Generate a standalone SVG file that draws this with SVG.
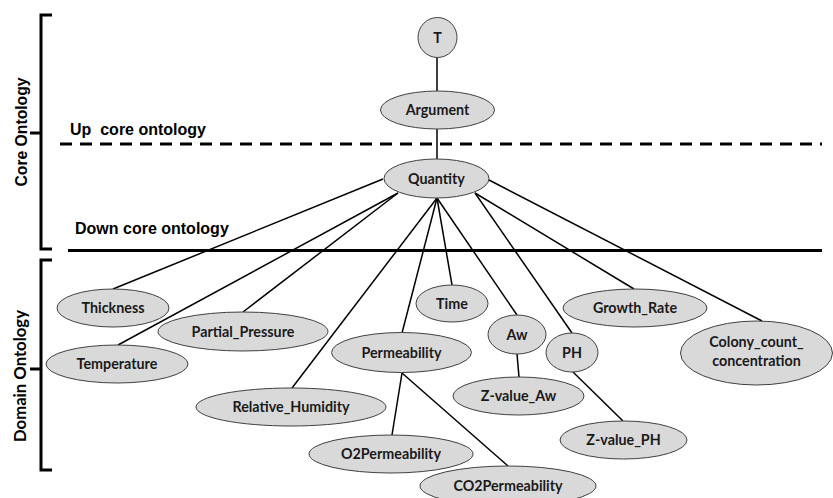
<svg xmlns="http://www.w3.org/2000/svg" width="833" height="498" viewBox="0 0 833 498">
<style>
.n ellipse{fill:#d9d9d9;stroke:#404040;stroke-width:1}
.n text{font-family:Lato,"Open Sans",sans-serif;font-weight:bold;font-size:14.3px;fill:#1a1a1a;text-anchor:middle}
.c line{stroke:#000;stroke-width:1.5}
.sep{stroke:#000;stroke-width:3;fill:none}
.br{stroke:#000;stroke-width:3;fill:none}
.lab{font-family:"Liberation Sans",Arial,sans-serif;font-weight:bold;font-size:16px;fill:#000;white-space:pre}
</style>
<rect width="833" height="498" fill="#fff"/>
<g id="brackets">
<path class="br" d="M52,15 H41 V249 H52 M41,133 H30"/>
<path class="br" d="M52,260 H41 V470 H52 M41,369 H30"/>
<text transform="translate(26.5,132) rotate(-90)" text-anchor="middle" font-family="Liberation Sans,Arial,sans-serif" font-weight="bold" font-size="16" textLength="109" lengthAdjust="spacingAndGlyphs" fill="#000">Core Ontology</text>
<text transform="translate(26,376) rotate(-90)" text-anchor="middle" font-family="Lato,sans-serif" font-weight="bold" font-size="17" textLength="132" lengthAdjust="spacingAndGlyphs" fill="#000">Domain Ontology</text>
</g>
<g id="separators">
<line class="sep" x1="60" y1="144" x2="822" y2="144" stroke-dasharray="12,8"/>
<line class="sep" x1="68" y1="250.5" x2="822" y2="250.5"/>
<text class="lab" x="70" y="135" xml:space="preserve">Up  core ontology</text>
<text class="lab" x="75" y="234">Down core ontology</text>
</g>
<g class="c" id="connectors">
<line x1="437" y1="57" x2="437" y2="91"/>
<line x1="437" y1="129" x2="437" y2="159"/>
<line x1="383" y1="179" x2="113" y2="289"/>
<line x1="398" y1="193" x2="118" y2="345"/>
<line x1="398" y1="193" x2="243" y2="312"/>
<line x1="437" y1="198" x2="292" y2="388"/>
<line x1="437" y1="198" x2="402" y2="333"/>
<line x1="437" y1="198" x2="452" y2="285"/>
<line x1="437" y1="198" x2="517" y2="315"/>
<line x1="475" y1="193" x2="572" y2="333"/>
<line x1="475" y1="193" x2="634" y2="289"/>
<line x1="489" y1="180" x2="762" y2="321"/>
<line x1="402" y1="373" x2="392" y2="435"/>
<line x1="402" y1="373" x2="508" y2="466"/>
<line x1="517" y1="354" x2="519" y2="377"/>
<line x1="573" y1="372" x2="623" y2="421"/>
</g>
<g class="n" id="T"><ellipse cx="437.5" cy="37.5" rx="19.5" ry="20"/><text x="437.5" y="42.5">T</text></g>
<g class="n" id="Argument"><ellipse cx="437.5" cy="110" rx="57" ry="19"/><text x="437.5" y="115">Argument</text></g>
<g class="n" id="Quantity"><ellipse cx="436.5" cy="178.5" rx="52.5" ry="19.5"/><text x="436.5" y="183.5">Quantity</text></g>
<g class="n" id="Thickness"><ellipse cx="113" cy="308" rx="56" ry="19"/><text x="113" y="313">Thickness</text></g>
<g class="n" id="Partial_Pressure"><ellipse cx="243" cy="331.5" rx="85" ry="19.5"/><text x="243" y="336.5">Partial_Pressure</text></g>
<g class="n" id="Temperature"><ellipse cx="117" cy="364" rx="71" ry="19"/><text x="117" y="369">Temperature</text></g>
<g class="n" id="Relative_Humidity"><ellipse cx="291" cy="407" rx="95" ry="19"/><text x="291" y="412">Relative_Humidity</text></g>
<g class="n" id="Permeability"><ellipse cx="401.5" cy="352.5" rx="70" ry="20"/><text x="401.5" y="357.5">Permeability</text></g>
<g class="n" id="O2Permeability"><ellipse cx="391" cy="454" rx="82" ry="19"/><text x="391" y="459">O2Permeability</text></g>
<g class="n" id="CO2Permeability"><ellipse cx="508" cy="486" rx="88" ry="20"/><text x="508" y="491">CO2Permeability</text></g>
<g class="n" id="Time"><ellipse cx="452" cy="303.5" rx="36" ry="18.5"/><text x="452" y="308.5">Time</text></g>
<g class="n" id="Aw"><ellipse cx="517" cy="334.5" rx="29" ry="19.5"/><text x="517" y="339.5">Aw</text></g>
<g class="n" id="PH"><ellipse cx="572" cy="352.5" rx="26" ry="19.5"/><text x="572" y="357.5">PH</text></g>
<g class="n" id="Z-value_Aw"><ellipse cx="518.5" cy="396" rx="65.5" ry="19"/><text x="518.5" y="401">Z-value_Aw</text></g>
<g class="n" id="Z-value_PH"><ellipse cx="623.5" cy="440" rx="63.5" ry="19"/><text x="623.5" y="445">Z-value_PH</text></g>
<g class="n" id="Growth_Rate"><ellipse cx="635" cy="308" rx="72" ry="19"/><text x="635" y="313">Growth_Rate</text></g>
<g class="n" id="Colony_count_concentration"><ellipse cx="756.5" cy="353" rx="76" ry="32"/><text x="756.5" y="347">Colony_count_</text><text x="756.5" y="366">concentration</text></g>
</svg>
